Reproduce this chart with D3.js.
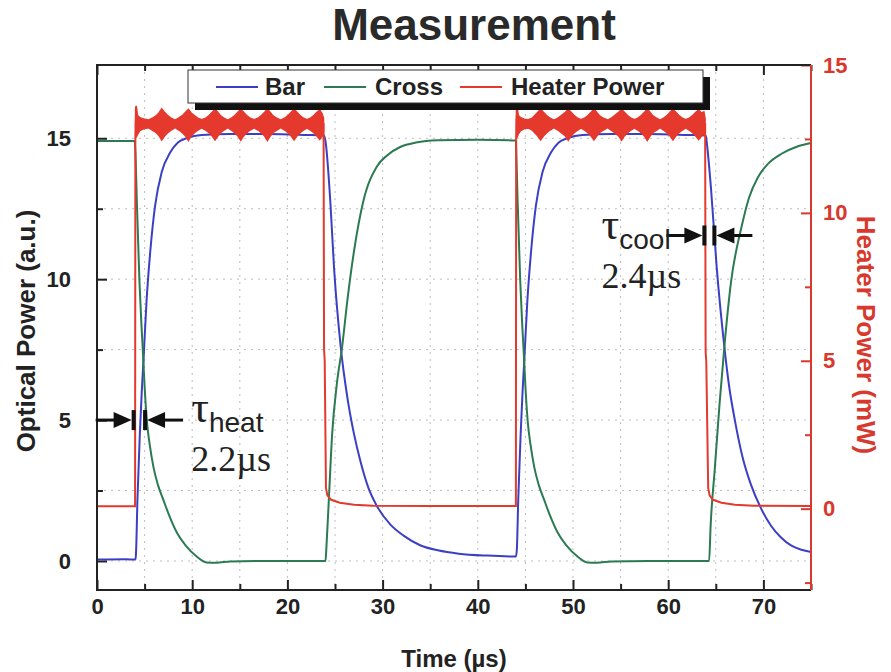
<!DOCTYPE html>
<html>
<head>
<meta charset="utf-8">
<script src="https://cdn.jsdelivr.net/npm/d3@7"></script>
<style>
  body { margin: 0; background: #fff; }
  svg text { font-family: "Liberation Sans", Arial, sans-serif; }
  svg text.serif, svg tspan.serif { font-family: "Liberation Serif", "Times New Roman", serif; }
</style>
</head>
<body>
<svg id="chart" width="891" height="672"></svg>
<script>
// values, [time µs, value]
const bar = [
  [0, 0.05], [3.0, 0.06], [4.05, 0.05], [4.1, 0.3], [4.25, 2.2], [4.5, 4.5], [4.7, 6.0],
  [4.88, 7.1], [5.2, 9.2], [5.6, 11.0], [6.1, 12.6], [6.8, 13.8], [7.7, 14.5], [8.5, 14.85],
  [9.4, 15.0], [11, 15.12], [14, 15.15], [18, 15.15], [22, 15.12], [23.85, 15.1],
  [24.0, 14.9], [24.5, 12.8], [24.9, 10.4], [25.6, 7.6], [26.3, 5.8], [27.0, 4.5], [27.7, 3.5],
  [28.5, 2.6], [29.4, 1.95], [30.8, 1.3], [32.2, 0.9], [34, 0.55], [35.8, 0.38], [38, 0.26],
  [41, 0.19], [44.0, 0.16],
  [44.1, 0.4], [44.25, 2.2], [44.5, 4.5], [44.7, 6.0], [44.88, 7.1], [45.2, 9.2], [45.6, 11.0],
  [46.1, 12.6], [46.8, 13.8], [47.7, 14.5], [48.5, 14.85], [49.4, 15.0], [51, 15.12], [54, 15.15],
  [58, 15.15], [62, 15.12], [63.95, 15.1],
  [64.1, 14.7], [64.5, 13.2], [65.1, 10.4], [65.9, 7.6], [66.4, 6.2], [67.0, 5.0], [67.8, 3.7],
  [68.7, 2.7], [69.7, 1.9], [70.8, 1.25], [71.8, 0.85], [72.9, 0.55], [74, 0.4], [75, 0.32]
];

const cross = [
  [0, 14.9], [3.95, 14.9], [4.05, 14.4], [4.18, 12.8], [4.45, 10.0], [4.65, 8.5], [4.81, 7.5],
  [5.0, 6.2], [5.23, 5.0], [5.55, 4.1], [5.93, 3.33], [6.4, 2.7], [6.98, 2.16], [7.6, 1.6],
  [8.4, 1.0], [9.3, 0.55], [10.5, 0.15], [11.5, -0.05], [12.5, -0.06], [14, -0.02], [18, 0.0],
  [22, 0.0], [24.0, 0.0],
  [24.1, 0.5], [24.35, 2.16], [24.7, 4.5], [25.2, 6.3], [25.75, 7.6], [26.3, 9.25], [27.0, 11.0],
  [28.0, 12.8], [29.4, 14.0], [30.5, 14.4], [31.9, 14.7], [33.5, 14.85], [35.8, 14.93],
  [40, 14.95], [44.0, 14.92],
  [44.05, 14.4], [44.18, 12.8], [44.45, 10.0], [44.65, 8.5], [44.81, 7.5], [45.0, 6.2],
  [45.23, 5.0], [45.55, 4.1], [45.93, 3.33], [46.4, 2.7], [46.98, 2.16], [47.6, 1.6], [48.4, 1.0],
  [49.3, 0.55], [50.5, 0.15], [51.5, -0.05], [52.5, -0.06], [54, -0.02], [58, 0.0], [62, 0.0],
  [64.3, 0.0],
  [64.45, 1.2], [64.9, 3.3], [65.4, 5.6], [65.9, 7.6], [66.6, 9.9], [67.7, 11.85], [68.5, 12.9],
  [69.4, 13.6], [70.5, 14.1], [71.9, 14.45], [73.5, 14.7], [75, 14.83]
];

// heater trace (mW), ripple while on is in heaterRipple
const heater = [
  [0, 0.08], [4.0, 0.08], [4.03, 12.6], [4.1, 13.6], [4.2, 13.0], [23.8, 13.0],
  [23.85, 5.4], [23.92, 5.0], [24.05, 0.7], [24.2, 0.45], [24.6, 0.3], [25.5, 0.2], [27, 0.13],
  [29, 0.1], [35, 0.09], [44.0, 0.09],
  [44.03, 12.6], [44.1, 13.6], [44.2, 13.0], [63.88, 13.0],
  [63.93, 5.3], [64.0, 5.0], [64.2, 0.7], [64.35, 0.45], [64.7, 0.3], [65.6, 0.2], [67, 0.13],
  [69, 0.1], [75, 0.09]
];

// [time, low, high] of the ripple band while heater is on
const heaterRipple1 = [
  [4.05, 12.9, 13.1], [4.12, 12.55, 13.62], [4.25, 12.65, 13.3], [4.5, 12.78, 13.22],
  [4.9, 12.84, 13.18], [5.4, 12.88, 13.14], [5.8, 12.8, 13.2], [6.2, 12.72, 13.28],
  [6.5, 12.62, 13.38], [6.8, 12.46, 13.52], [7.1, 12.6, 13.4], [7.4, 12.7, 13.3],
  [7.8, 12.8, 13.2], [8.2, 12.88, 13.14], [8.6, 12.8, 13.21], [9.0, 12.7, 13.3],
  [9.3, 12.6, 13.4], [9.6, 12.44, 13.5], [9.9, 12.6, 13.38], [10.2, 12.7, 13.3],
  [10.6, 12.8, 13.2], [11.0, 12.87, 13.15], [11.4, 12.8, 13.2], [11.8, 12.7, 13.3],
  [12.1, 12.6, 13.4], [12.4, 12.46, 13.52], [12.7, 12.6, 13.4], [13.0, 12.72, 13.28],
  [13.35, 12.8, 13.2], [13.75, 12.88, 13.14], [14.1, 12.8, 13.2], [14.5, 12.7, 13.3],
  [14.8, 12.6, 13.4], [15.1, 12.45, 13.5], [15.4, 12.6, 13.4], [15.7, 12.7, 13.3],
  [16.1, 12.8, 13.2], [16.5, 12.87, 13.15], [16.9, 12.8, 13.2], [17.3, 12.7, 13.3],
  [17.6, 12.6, 13.4], [17.9, 12.44, 13.52], [18.2, 12.6, 13.4], [18.5, 12.72, 13.28],
  [18.9, 12.8, 13.2], [19.3, 12.88, 13.14], [19.7, 12.8, 13.2], [20.1, 12.7, 13.3],
  [20.4, 12.6, 13.4], [20.7, 12.46, 13.5], [21.0, 12.6, 13.4], [21.3, 12.7, 13.3],
  [21.7, 12.8, 13.2], [22.05, 12.87, 13.15], [22.4, 12.8, 13.2], [22.8, 12.7, 13.3],
  [23.1, 12.6, 13.4], [23.4, 12.48, 13.48], [23.65, 12.6, 13.35], [23.8, 12.8, 13.2]
];
const heaterRipple2 = [
  [44.05, 12.9, 13.1], [44.12, 12.55, 13.6], [44.25, 12.66, 13.3], [44.5, 12.78, 13.22],
  [44.9, 12.85, 13.17], [45.3, 12.87, 13.15], [45.7, 12.8, 13.2], [46.0, 12.7, 13.3],
  [46.3, 12.6, 13.4], [46.6, 12.46, 13.52], [46.9, 12.6, 13.4], [47.2, 12.7, 13.3],
  [47.6, 12.8, 13.2], [48.0, 12.88, 13.14], [48.4, 12.8, 13.2], [48.8, 12.7, 13.3],
  [49.2, 12.6, 13.4], [49.5, 12.45, 13.5], [49.8, 12.6, 13.4], [50.1, 12.7, 13.3],
  [50.5, 12.8, 13.2], [50.85, 12.87, 13.15], [51.2, 12.8, 13.2], [51.6, 12.7, 13.3],
  [51.9, 12.6, 13.4], [52.2, 12.46, 13.52], [52.5, 12.6, 13.4], [52.8, 12.72, 13.28],
  [53.2, 12.8, 13.2], [53.65, 12.88, 13.14], [54.0, 12.8, 13.2], [54.4, 12.7, 13.3],
  [54.8, 12.6, 13.4], [55.1, 12.45, 13.5], [55.4, 12.6, 13.4], [55.7, 12.7, 13.3],
  [56.1, 12.8, 13.2], [56.45, 12.87, 13.15], [56.8, 12.8, 13.2], [57.2, 12.7, 13.3],
  [57.5, 12.6, 13.4], [57.8, 12.44, 13.52], [58.1, 12.6, 13.4], [58.4, 12.72, 13.28],
  [58.8, 12.8, 13.2], [59.15, 12.88, 13.14], [59.5, 12.8, 13.2], [59.9, 12.7, 13.3],
  [60.2, 12.6, 13.4], [60.5, 12.46, 13.5], [60.8, 12.6, 13.4], [61.1, 12.7, 13.3],
  [61.5, 12.8, 13.2], [61.85, 12.87, 13.15], [62.2, 12.8, 13.2], [62.6, 12.7, 13.3],
  [62.9, 12.6, 13.4], [63.2, 12.48, 13.48], [63.5, 12.6, 13.38], [63.75, 12.65, 13.42],
  [63.88, 12.8, 13.2]
];

const xTicks = [0, 10, 20, 30, 40, 50, 60, 70];
const xMinor = [5, 15, 25, 35, 45, 55, 65, 75];
const yLeftTicks = [0, 5, 10, 15];
const yLeftMinor = [2.5, 7.5, 12.5];
const yRightTicks = [0, 5, 10, 15];
const yRightMinor = [-2.5, 2.5, 7.5, 12.5];

const legendItems = ["Bar", "Cross", "Heater Power"];

// τ markers: bar positions (µs), height on left axis, text position (µs)
const tauMarks = [
  { sub: "heat", value: "2.2\u00b5s", t0: 3.85, t1: 5.05, y: 5, textT: 9.9, textDy: [2, 51] },
  { sub: "cool", value: "2.4\u00b5s", t0: 63.8, t1: 64.85, y: 11.55, textT: 53.0, textDy: [4, 53] }
];

const colors = { bar: "#3b3fc4", cross: "#2b7a52", heater: "#e4392c", axisRed: "#d8392e" };

const svg = d3.select("#chart");
const plot = { l: 97, r: 811, t: 65, b: 590 };

const x = d3.scaleLinear().domain([0, 75]).range([plot.l, plot.r]);
const yL = d3.scaleLinear().domain([-1.03, 17.6]).range([plot.b, plot.t]);
const yR = d3.scaleLinear().domain([-2.75, 15]).range([plot.b, plot.t]);

// title
svg.append("text")
  .attr("x", 474).attr("y", 40)
  .attr("text-anchor", "middle")
  .attr("font-size", 44).attr("font-weight", 700).attr("fill", "#2a2a2a")
  .text("Measurement");

// grid
const grid = svg.append("g").attr("stroke", "#bdbdbd").attr("stroke-width", 1)
  .attr("stroke-dasharray", "2,5");
grid.selectAll("line.v")
  .data(xTicks.concat(xMinor).filter(d => d > 0 && d < 75))
  .join("line").attr("class", "v")
  .attr("x1", d => x(d)).attr("x2", d => x(d))
  .attr("y1", plot.t).attr("y2", plot.b);
grid.selectAll("line.h")
  .data(yLeftTicks.concat(yLeftMinor))
  .join("line").attr("class", "h")
  .attr("x1", plot.l).attr("x2", plot.r)
  .attr("y1", d => yL(d)).attr("y2", d => yL(d));

// axes (ticks point inward)
function axisStyle(g, color) {
  g.select(".domain").remove();
  g.selectAll("line").attr("stroke", color).attr("stroke-width", 2);
  g.selectAll("text").attr("font-size", 22).attr("font-weight", 700).attr("fill", color);
}
svg.append("g").attr("transform", `translate(0,${plot.b})`)
  .call(d3.axisBottom(x).tickValues(xTicks).tickSize(-10).tickPadding(8).tickFormat(d3.format("d")))
  .call(g => axisStyle(g, "#222"));
svg.append("g").attr("transform", `translate(0,${plot.b})`)
  .call(d3.axisBottom(x).tickValues(xMinor).tickSize(-6).tickFormat(""))
  .call(g => axisStyle(g, "#222"));
svg.append("g").attr("transform", `translate(0,${plot.t})`)
  .call(d3.axisTop(x).tickValues(xTicks).tickSize(-10).tickFormat(""))
  .call(g => axisStyle(g, "#222"));
svg.append("g").attr("transform", `translate(0,${plot.t})`)
  .call(d3.axisTop(x).tickValues(xMinor).tickSize(-6).tickFormat(""))
  .call(g => axisStyle(g, "#222"));
svg.append("g").attr("transform", `translate(${plot.l},0)`)
  .call(d3.axisLeft(yL).tickValues(yLeftTicks).tickSize(-10).tickPadding(26).tickFormat(d3.format("d")))
  .call(g => axisStyle(g, "#222"));
svg.append("g").attr("transform", `translate(${plot.l},0)`)
  .call(d3.axisLeft(yL).tickValues(yLeftMinor).tickSize(-6).tickFormat(""))
  .call(g => axisStyle(g, "#222"));
svg.append("g").attr("transform", `translate(${plot.r},0)`)
  .call(d3.axisRight(yR).tickValues(yRightTicks).tickSize(-10).tickPadding(12).tickFormat(d3.format("d")))
  .call(g => axisStyle(g, colors.axisRed));
svg.append("g").attr("transform", `translate(${plot.r},0)`)
  .call(d3.axisRight(yR).tickValues(yRightMinor).tickSize(-6).tickFormat(""))
  .call(g => axisStyle(g, colors.axisRed));

// curves
const lineL = d3.line().x(d => x(d[0])).y(d => yL(d[1])).curve(d3.curveMonotoneX);
const lineR = d3.line().x(d => x(d[0])).y(d => yR(d[1]));
const ripple = d3.area().x(d => x(d[0])).y0(d => yR(d[1])).y1(d => yR(d[2]));

svg.append("path").datum(bar).attr("d", lineL)
  .attr("fill", "none").attr("stroke", colors.bar).attr("stroke-width", 2);
svg.append("path").datum(cross).attr("d", lineL)
  .attr("fill", "none").attr("stroke", colors.cross).attr("stroke-width", 2);
svg.append("path").datum(heater).attr("d", lineR)
  .attr("fill", "none").attr("stroke", colors.heater).attr("stroke-width", 2);
svg.selectAll("path.ripple")
  .data([heaterRipple1, heaterRipple2])
  .join("path").attr("class", "ripple")
  .attr("d", ripple)
  .attr("fill", colors.heater).attr("stroke", colors.heater).attr("stroke-width", 1.4);

// frame
svg.append("path")
  .attr("d", `M${plot.r},${plot.t}H${plot.l}V${plot.b}H${plot.r}`)
  .attr("fill", "none").attr("stroke", "#222").attr("stroke-width", 2);
svg.append("line")
  .attr("x1", plot.r).attr("x2", plot.r).attr("y1", plot.t).attr("y2", plot.b)
  .attr("stroke", colors.axisRed).attr("stroke-width", 2);

// legend
const leg = svg.append("g");
leg.append("rect").attr("x", 195).attr("y", 77).attr("width", 515).attr("height", 33).attr("fill", "#111");
leg.append("rect").attr("x", 188).attr("y", 70).attr("width", 515).attr("height", 33)
  .attr("fill", "#fff").attr("stroke", "#333").attr("stroke-width", 1);
const legPos = [{ lx: 216, tx: 265 }, { lx: 324, tx: 375 }, { lx: 460, tx: 511 }];
const legColors = [colors.bar, colors.cross, colors.heater];
legendItems.forEach((name, i) => {
  leg.append("line").attr("x1", legPos[i].lx).attr("x2", legPos[i].lx + 42)
    .attr("y1", 87).attr("y2", 87).attr("stroke", legColors[i]).attr("stroke-width", 2);
  leg.append("text").attr("x", legPos[i].tx).attr("y", 95)
    .attr("font-size", 24).attr("font-weight", 700).attr("fill", "#222").text(name);
});

// axis titles
svg.append("text")
  .attr("transform", "translate(35,331) rotate(-90)")
  .attr("text-anchor", "middle").attr("font-size", 26).attr("font-weight", 700).attr("fill", "#222")
  .text("Optical Power (a.u.)");
svg.append("text")
  .attr("transform", "translate(857,335) rotate(90)")
  .attr("text-anchor", "middle").attr("font-size", 26).attr("font-weight", 700).attr("fill", colors.axisRed)
  .text("Heater Power (mW)");
svg.append("text")
  .attr("x", 454).attr("y", 667)
  .attr("text-anchor", "middle").attr("font-size", 24).attr("font-weight", 700).attr("fill", "#222")
  .text("Time (\u00b5s)");

// τ markers
const tri = (tip, dir, y) => `M${tip},${y}L${tip - dir * 18},${y - 8}L${tip - dir * 18},${y + 8}Z`;
tauMarks.forEach(m => {
  const g = svg.append("g").attr("fill", "#111").attr("stroke", "#111");
  const y = yL(m.y), a = x(m.t0), b = x(m.t1);
  g.append("line").attr("x1", a - 38).attr("x2", a - 16).attr("y1", y).attr("y2", y).attr("stroke-width", 3);
  g.append("path").attr("d", tri(a - 2, 1, y)).attr("stroke", "none");
  g.append("rect").attr("x", a - 2).attr("y", y - 10).attr("width", 4).attr("height", 20).attr("stroke", "none");
  g.append("rect").attr("x", b - 2).attr("y", y - 10).attr("width", 4).attr("height", 20).attr("stroke", "none");
  g.append("path").attr("d", tri(b + 2, -1, y)).attr("stroke", "none");
  g.append("line").attr("x1", b + 16).attr("x2", b + 38).attr("y1", y).attr("y2", y).attr("stroke-width", 3);

  const tx = x(m.textT);
  const t = svg.append("text").attr("x", tx).attr("y", y + m.textDy[0]).attr("fill", "#222");
  t.append("tspan").attr("class", "serif").attr("font-size", 44).text("\u03c4");
  t.append("tspan").attr("dy", 10).attr("font-size", 28).text(m.sub);
  svg.append("text").attr("class", "serif").attr("x", tx).attr("y", y + m.textDy[1])
    .attr("font-size", 36).attr("fill", "#222").text(m.value);
});
</script>
</body>
</html>
